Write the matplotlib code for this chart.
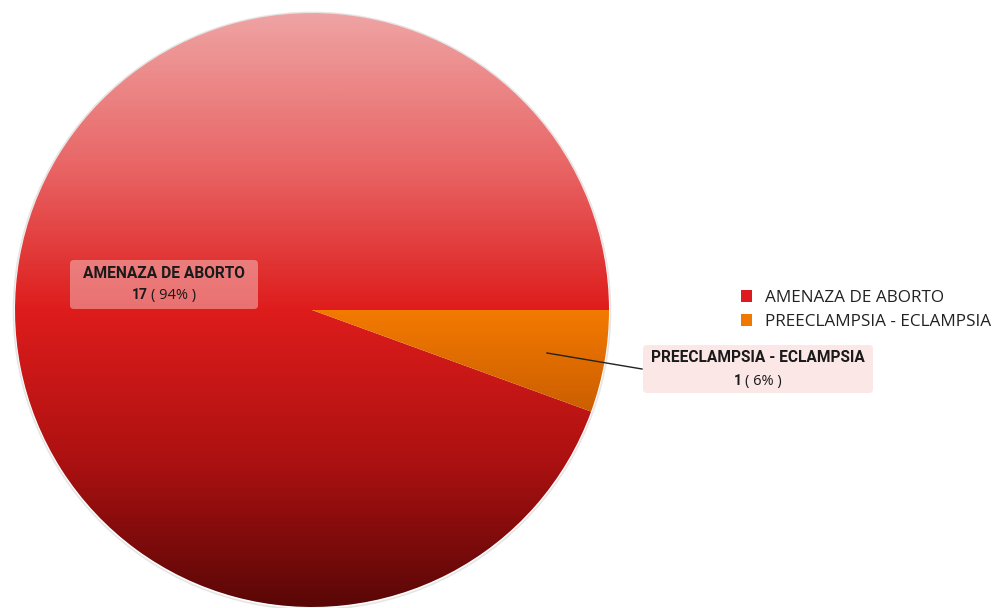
import numpy as np
import matplotlib.pyplot as plt
from matplotlib.colors import LinearSegmentedColormap
from matplotlib.patches import FancyBboxPatch, Patch, Circle

labels = ['AMENAZA DE ABORTO', 'PREECLAMPSIA - ECLAMPSIA']
counts = [17, 1]
legend_colors = ['#dd1a22', '#f07800']

# vertical shading used inside each slice (top -> bottom)
red_stops = [(0.0, '#efa3a3'), (0.25, '#e96767'), (0.5, '#de1c1c'),
             (0.75, '#ae1111'), (1.0, '#5a0707')]
orange_stops = [(0.0, '#ffbe7a'), (0.5, '#f47a00'), (0.68, '#c95d00'),
                (1.0, '#7a3200')]

W, H = 1004, 608
cx, cy, r = 312, H - 310, 297

fig = plt.figure(figsize=(W / 100, H / 100), dpi=100)
ax = fig.add_axes([0, 0, 1, 1])

# faint halo round the pie
ax.add_patch(Circle((cx, cy - 1), r + 1.5, facecolor='none',
                    edgecolor='#aaaaaa', lw=1.2, alpha=0.3, zorder=0))

wedges, _ = ax.pie(counts, startangle=0, counterclock=True,
                   center=(cx, cy), radius=r, frame=True,
                   wedgeprops=dict(facecolor='none', edgecolor='none'))

grad = np.linspace(0, 1, 600).reshape(-1, 1)
for w, stops in zip(wedges, [red_stops, orange_stops]):
    cmap = LinearSegmentedColormap.from_list('shade', stops)
    ax.imshow(grad, cmap=cmap, extent=(cx - r, cx + r, cy - r, cy + r),
              origin='upper', aspect='auto', clip_path=w, zorder=1,
              interpolation='bilinear')

ax.set_xlim(0, W)
ax.set_ylim(0, H)
ax.set_aspect('equal')
ax.axis('off')

# leader line for the small slice
ax.plot([547, 642], [H - 353, H - 369], color='#222222', lw=1, zorder=3)

renderer = fig.canvas.get_renderer()
bold_font = ['Roboto', 'DejaVu Sans']
plain_font = ['Open Sans', 'DejaVu Sans']


def data_label(box, title, y_title, y_value, count, pct, fc, alpha):
    x0, y0, x1, y1 = box
    ax.add_patch(FancyBboxPatch((x0, H - y1), x1 - x0, y1 - y0,
                                boxstyle='round,pad=0,rounding_size=4',
                                facecolor=fc, edgecolor='none',
                                alpha=alpha, zorder=4))
    xc = (x0 + x1) / 2
    ax.text(xc, H - y_title, title, ha='center', va='center', fontsize=11.2,
            weight='bold', family=bold_font, color='#1a1a1a', zorder=5)
    t1 = ax.text(0, H - y_value, str(count), ha='left', va='center',
                 fontsize=10, weight='bold', family=bold_font,
                 color='#1a1a1a', zorder=5)
    t2 = ax.text(0, H - y_value, f'( {pct}% )', ha='left', va='center',
                 fontsize=10.5, family=plain_font, color='#1a1a1a', zorder=5)
    w1 = t1.get_window_extent(renderer).width
    w2 = t2.get_window_extent(renderer).width
    gap = 3
    left = xc - (w1 + gap + w2) / 2
    t1.set_x(left)
    t2.set_x(left + w1 + gap)


total = sum(counts)
pcts = [round(c * 100 / total) for c in counts]
data_label((70, 260, 258, 309), labels[0], 273.5, 295, counts[0], pcts[0],
           '#f9cdcd', 0.48)
data_label((643, 345, 873, 393), labels[1], 357.5, 381, counts[1], pcts[1],
           '#f9cdcd', 0.48)

handles = [Patch(facecolor=c, edgecolor='none') for c in legend_colors]
ax.legend(handles, labels, loc='upper left',
          bbox_to_anchor=(741 / W, 1 - 290 / H), bbox_transform=fig.transFigure,
          frameon=False, borderpad=0, borderaxespad=0,
          handlelength=0.65, handleheight=0.65, handletextpad=0.75,
          labelspacing=0.48, prop=dict(family=plain_font, size=12.3),
          labelcolor='#222222')

fig.savefig('out.png', dpi=100)
